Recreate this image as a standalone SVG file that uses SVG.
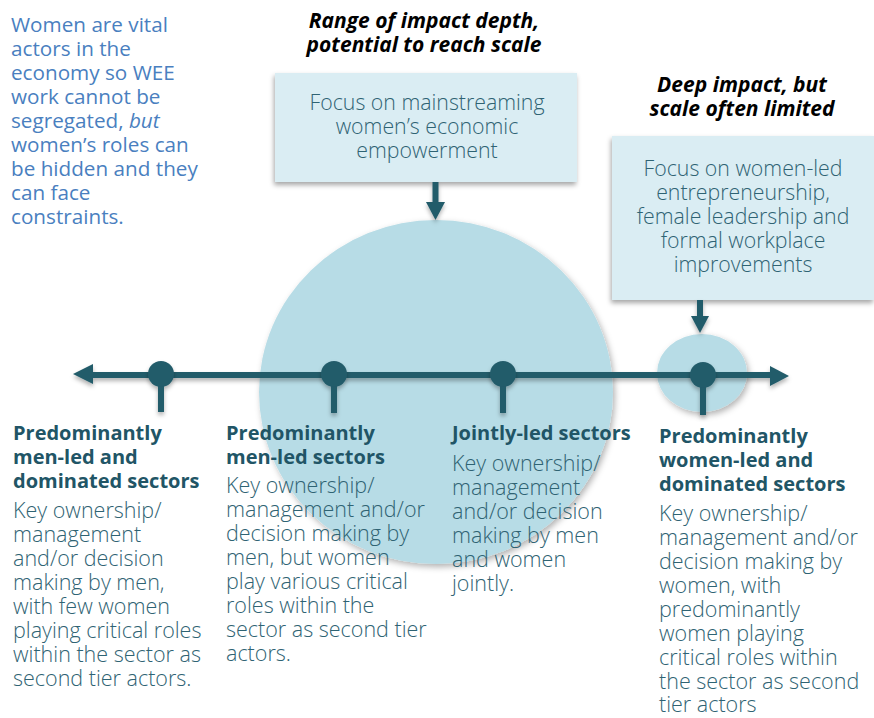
<svg xmlns="http://www.w3.org/2000/svg" width="874" height="718" viewBox="0 0 874 718">
<defs>
<filter id="sh" x="-10%" y="-10%" width="120%" height="130%">
<feDropShadow dx="-1" dy="3" stdDeviation="2.5" flood-color="#000" flood-opacity="0.35"/>
</filter>
<filter id="shc" x="-10%" y="-10%" width="125%" height="125%">
<feDropShadow dx="2" dy="3" stdDeviation="3" flood-color="#000" flood-opacity="0.3"/>
</filter>
<filter id="shl" x="-5%" y="-50%" width="110%" height="250%">
<feDropShadow dx="0" dy="3" stdDeviation="2" flood-color="#000" flood-opacity="0.3"/>
</filter>
<style>
.box{fill:#daedf3;}
.bub{fill:#b7dce6;}
.ink{fill:#235b6a;}
.stroke{stroke:#235b6a;stroke-width:6;fill:none;}
.title{font-family:"Open Sans","Lato",sans-serif;font-weight:bold;font-style:italic;font-size:21px;fill:#000;text-anchor:middle;}
.boxt{font-family:"Open Sans","Lato",sans-serif;font-weight:300;font-size:21.3px;fill:#2f6373;text-anchor:middle;}
.intro{font-family:"Open Sans","Lato",sans-serif;font-size:20.7px;fill:#4a7fbf;}
.head{font-family:"Open Sans","Lato",sans-serif;font-weight:bold;font-size:20px;fill:#215566;}
.body{font-family:"Open Sans","Lato",sans-serif;font-weight:300;font-size:21.5px;fill:#2f6373;}
</style>
</defs>
<rect width="874" height="718" fill="#fff"/>

<g id="intro">
<text class="intro" x="11" y="32">Women are vital</text>
<text class="intro" x="11" y="56">actors in the</text>
<text class="intro" x="11" y="80">economy so WEE</text>
<text class="intro" x="11" y="104">work cannot be</text>
<text class="intro" x="11" y="128">segregated, <tspan font-style="italic">but</tspan></text>
<text class="intro" x="11" y="152">women’s roles can</text>
<text class="intro" x="11" y="176">be hidden and they</text>
<text class="intro" x="11" y="200">can face</text>
<text class="intro" x="11" y="224">constraints.</text>
</g>

<g id="bubble-large">
<ellipse class="bub" cx="436" cy="392" rx="177" ry="172" filter="url(#shc)"/>
</g>
<g id="bubble-small">
<ellipse class="bub" cx="702" cy="373" rx="45" ry="39" filter="url(#shc)"/>
</g>

<g id="title-mainstream">
<text class="title" x="424" y="28">Range of impact depth,</text>
<text class="title" x="424" y="52">potential to reach scale</text>
</g>
<g id="title-deep">
<text class="title" x="742" y="92">Deep impact, but</text>
<text class="title" x="742" y="116">scale often limited</text>
</g>

<g id="box-mainstream">
<rect class="box" x="275" y="73" width="302" height="109" filter="url(#sh)"/>
<text class="boxt" x="427" y="110">Focus on mainstreaming</text>
<text class="boxt" x="427" y="134">women’s economic</text>
<text class="boxt" x="427" y="158">empowerment</text>
</g>
<g id="box-womenled">
<rect class="box" x="612" y="136" width="262" height="164" filter="url(#sh)"/>
<text class="boxt" x="743" y="176">Focus on women-led</text>
<text class="boxt" x="743" y="200">entrepreneurship,</text>
<text class="boxt" x="743" y="224">female leadership and</text>
<text class="boxt" x="743" y="248">formal workplace</text>
<text class="boxt" x="743" y="272">improvements</text>
</g>

<g id="connectors">
<g filter="url(#shl)">
<line class="stroke" x1="90" y1="375" x2="772" y2="375"/>
<polygon class="ink" points="73,374 93,364 93,384"/>
<polygon class="ink" points="789,376 770,366 770,386"/>
</g>
<g filter="url(#shl)">
<line class="stroke" x1="435.5" y1="182" x2="435.5" y2="204"/>
<polygon class="ink" points="426,202 445,202 435.5,220"/>
<line class="stroke" x1="700" y1="300" x2="700" y2="318"/>
<polygon class="ink" points="691,316 709,316 700,333"/>
</g>
<g filter="url(#shl)">
<line class="stroke" x1="161" y1="375" x2="161" y2="412"/>
<line class="stroke" x1="334" y1="375" x2="334" y2="413"/>
<line class="stroke" x1="503" y1="375" x2="503" y2="413"/>
<line class="stroke" x1="703" y1="375" x2="703" y2="415"/>
<circle class="ink" cx="161" cy="374" r="13"/>
<circle class="ink" cx="334" cy="374" r="13"/>
<circle class="ink" cx="503" cy="374" r="13"/>
<circle class="ink" cx="703" cy="375" r="13"/>
</g>
</g>

<g id="col-men-dominated">
<text class="head" x="13" y="440">Predominantly</text>
<text class="head" x="13" y="464">men-led and</text>
<text class="head" x="13" y="488">dominated sectors</text>
<text class="body" x="13" y="518">Key ownership/</text>
<text class="body" x="13" y="542">management</text>
<text class="body" x="13" y="566">and/or decision</text>
<text class="body" x="13" y="590">making by men,</text>
<text class="body" x="13" y="614">with few women</text>
<text class="body" x="13" y="638">playing critical roles</text>
<text class="body" x="13" y="662">within the sector as</text>
<text class="body" x="13" y="686">second tier actors.</text>
</g>

<g id="col-men-led">
<text class="head" x="226" y="440">Predominantly</text>
<text class="head" x="226" y="464">men-led sectors</text>
<text class="body" x="226" y="493">Key ownership/</text>
<text class="body" x="226" y="517">management and/or</text>
<text class="body" x="226" y="541">decision making by</text>
<text class="body" x="226" y="565">men, but women</text>
<text class="body" x="226" y="589">play various critical</text>
<text class="body" x="226" y="613">roles within the</text>
<text class="body" x="226" y="637">sector as second tier</text>
<text class="body" x="226" y="661">actors.</text>
</g>

<g id="col-jointly">
<text class="head" x="452" y="440">Jointly-led sectors</text>
<text class="body" x="452" y="471">Key ownership/</text>
<text class="body" x="452" y="495">management</text>
<text class="body" x="452" y="519">and/or decision</text>
<text class="body" x="452" y="543">making by men</text>
<text class="body" x="452" y="567">and women</text>
<text class="body" x="452" y="591">jointly.</text>
</g>

<g id="col-women-dominated">
<text class="head" x="659" y="443">Predominantly</text>
<text class="head" x="659" y="467">women-led and</text>
<text class="head" x="659" y="491">dominated sectors</text>
<text class="body" x="659" y="521">Key ownership/</text>
<text class="body" x="659" y="545">management and/or</text>
<text class="body" x="659" y="569">decision making by</text>
<text class="body" x="659" y="593">women, with</text>
<text class="body" x="659" y="617">predominantly</text>
<text class="body" x="659" y="641">women playing</text>
<text class="body" x="659" y="665">critical roles within</text>
<text class="body" x="659" y="689">the sector as second</text>
<text class="body" x="659" y="712">tier actors</text>
</g>
</svg>
